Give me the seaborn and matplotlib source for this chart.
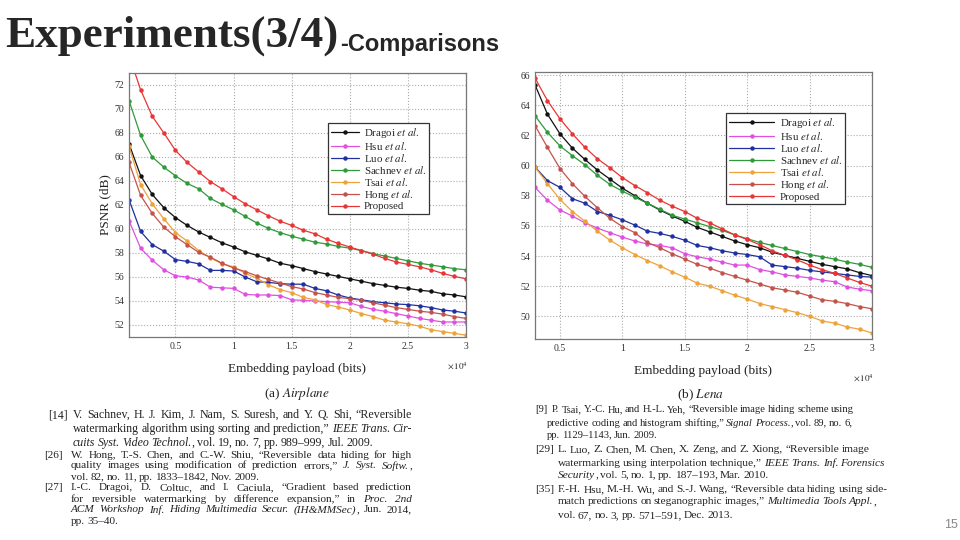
import numpy as np
import pandas as pd
import matplotlib
matplotlib.use("Agg")
import matplotlib.pyplot as plt
import seaborn as sns

sns.set_style("white")
plt.rcParams["font.family"] = ["Liberation Serif", "DejaVu Serif"]
plt.rcParams["mathtext.fontset"] = "stix"

# payload in units of 10^4 bits
x_air = [round(0.1 * i, 1) for i in range(1, 31)]
x_lena = [round(0.1 * i, 1) for i in range(3, 31)]

names = ["Dragoi", "Hsu", "Luo", "Sachnev", "Tsai", "Hong", "Proposed"]
colors = ["#111111", "#e050e0", "#2030a0", "#2e9a3a", "#eea23a", "#c4524a", "#e83535"]

# (a) Airplane
air_dragoi = [67.1, 64.45, 62.88, 61.77, 60.95, 60.3, 59.75, 59.3, 58.85, 58.5, 58.1, 57.8, 57.5, 57.15, 56.95,
              56.7, 56.45, 56.25, 56.05, 55.85, 55.65, 55.45, 55.3, 55.15, 55.05, 54.9, 54.8, 54.6, 54.5, 54.35]
air_hsu = [60.7, 58.4, 57.4, 56.6, 56.1, 56.0, 55.75, 55.15, 55.1, 55.05, 54.55, 54.5, 54.5, 54.45, 54.1,
           54.05, 54.0, 53.95, 53.9, 53.85, 53.55, 53.3, 53.15, 52.95, 52.75, 52.55, 52.4, 52.25, 52.25, 52.25]
air_luo = [62.45, 59.8, 58.7, 58.15, 57.45, 57.3, 57.1, 56.55, 56.55, 56.5, 56.0, 55.6, 55.55, 55.45, 55.4,
           55.4, 55.05, 54.85, 54.5, 54.25, 54.1, 53.95, 53.85, 53.75, 53.7, 53.6, 53.45, 53.25, 53.15, 53.0]
air_sachnev = [70.7, 67.8, 66.0, 65.15, 64.43, 63.8, 63.35, 62.55, 62.05, 61.6, 61.05, 60.5, 60.05, 59.7, 59.4,
               59.15, 58.9, 58.75, 58.55, 58.4, 58.2, 57.95, 57.75, 57.55, 57.35, 57.15, 57.0, 56.85, 56.7, 56.6]
air_tsai = [66.9, 63.7, 62.1, 60.85, 59.7, 59.0, 58.2, 57.6, 57.1, 56.85, 56.3, 55.9, 55.35, 54.95, 54.7,
            54.3, 54.1, 53.7, 53.5, 53.25, 52.95, 52.7, 52.4, 52.25, 52.1, 51.9, 51.6, 51.45, 51.3, 51.15]
air_hong = [65.55, 62.8, 61.3, 60.15, 59.35, 58.7, 58.05, 57.65, 57.15, 56.75, 56.45, 56.1, 55.8, 55.5, 55.2,
            55.0, 54.7, 54.5, 54.3, 54.2, 54.05, 53.85, 53.65, 53.45, 53.3, 53.15, 53.05, 52.9, 52.7, 52.55]
air_proposed = [74.5, 71.6, 69.4, 68.0, 66.55, 65.55, 64.75, 63.95, 63.35, 62.7, 62.1, 61.6, 61.1, 60.65, 60.3,
                59.9, 59.6, 59.15, 58.8, 58.5, 58.2, 57.9, 57.55, 57.25, 57.05, 56.85, 56.6, 56.3, 56.05, 55.85]

# (b) Lena
lena_dragoi = [65.35, 63.4, 62.1, 61.15, 60.4, 59.7, 59.1, 58.5, 58.0, 57.5, 57.05, 56.65, 56.3, 55.9,
               55.6, 55.3, 55.0, 54.75, 54.55, 54.25, 54.05, 53.85, 53.65, 53.45, 53.3, 53.15, 52.9, 52.7]
lena_hsu = [58.55, 57.7, 57.05, 56.65, 56.2, 55.85, 55.55, 55.25, 55.0, 54.8, 54.7, 54.55, 54.15, 53.95,
            53.8, 53.6, 53.4, 53.4, 53.1, 52.95, 52.75, 52.65, 52.55, 52.4, 52.3, 51.95, 51.8, 51.7]
lena_luo = [59.9, 59.0, 58.55, 57.8, 57.5, 56.95, 56.7, 56.4, 56.05, 55.65, 55.5, 55.3, 55.05, 54.7,
            54.55, 54.35, 54.2, 54.1, 53.95, 53.4, 53.3, 53.2, 53.05, 52.95, 52.85, 52.75, 52.65, 52.6]
lena_sachnev = [63.3, 62.2, 61.3, 60.65, 60.05, 59.35, 58.75, 58.3, 57.9, 57.5, 57.1, 56.7, 56.45, 56.2,
                55.95, 55.7, 55.4, 55.15, 54.9, 54.7, 54.5, 54.3, 54.1, 53.95, 53.8, 53.6, 53.45, 53.25]
lena_tsai = [59.9, 58.8, 57.75, 56.95, 56.3, 55.65, 55.05, 54.55, 54.1, 53.7, 53.35, 52.95, 52.6, 52.2,
             52.0, 51.7, 51.4, 51.15, 50.85, 50.65, 50.45, 50.25, 50.0, 49.7, 49.55, 49.3, 49.15, 48.9]
lena_hong = [62.65, 61.2, 59.8, 58.8, 57.95, 57.2, 56.5, 55.95, 55.55, 54.9, 54.55, 54.15, 53.8, 53.45,
             53.2, 52.9, 52.65, 52.4, 52.15, 51.9, 51.75, 51.6, 51.35, 51.1, 51.0, 50.85, 50.65, 50.5]
lena_proposed = [65.8, 64.3, 63.1, 62.1, 61.2, 60.45, 59.85, 59.2, 58.67, 58.2, 57.7, 57.3, 56.95, 56.5,
                 56.2, 55.8, 55.4, 55.1, 54.75, 54.35, 54.05, 53.75, 53.4, 53.1, 52.85, 52.55, 52.25, 52.0]

air = [air_dragoi, air_hsu, air_luo, air_sachnev, air_tsai, air_hong, air_proposed]
lena = [lena_dragoi, lena_hsu, lena_luo, lena_sachnev, lena_tsai, lena_hong, lena_proposed]

# reference lists; *...* marks italic
refs_left = [
    ("[14]", 48, 73, 8.6, [415, 429, 443], [
        "V. Sachnev, H. J. Kim, J. Nam, S. Suresh, and Y. Q. Shi, \u201cReversible",
        "watermarking algorithm using sorting and prediction,\u201d *IEEE Trans. Cir-*",
        "*cuits Syst. Video Technol.*, vol. 19, no. 7, pp. 989\u2013999, Jul. 2009."]),
    ("[26]", 44, 71, 8.1, [455, 466, 477], [
        "W. Hong, T.-S. Chen, and C.-W. Shiu, \u201cReversible data hiding for high",
        "quality images using modification of prediction errors,\u201d *J. Syst. Softw.*,",
        "vol. 82, no. 11, pp. 1833\u20131842, Nov. 2009."]),
    ("[27]", 44, 71, 8.1, [488, 499, 510, 522], [
        "I.-C. Dragoi, D. Coltuc, and I. Caciula, \u201cGradient based prediction",
        "for reversible watermarking by difference expansion,\u201d in *Proc. 2nd*",
        "*ACM Workshop Inf. Hiding Multimedia Secur. (IH&MMSec)*, Jun. 2014,",
        "pp. 35\u201340."]),
]
refs_right = [
    ("[9]", 535, 552, 7.6, [410, 423, 435], [
        "P. Tsai, Y.-C. Hu, and H.-L. Yeh, \u201cReversible image hiding scheme using",
        "predictive coding and histogram shifting,\u201d *Signal Process.*, vol. 89, no. 6,",
        "pp. 1129\u20131143, Jun. 2009."]),
    ("[29]", 535, 558, 8.2, [450, 463, 475], [
        "L. Luo, Z. Chen, M. Chen, X. Zeng, and Z. Xiong, \u201cReversible image",
        "watermarking using interpolation technique,\u201d *IEEE Trans. Inf. Forensics*",
        "*Security*, vol. 5, no. 1, pp. 187\u2013193, Mar. 2010."]),
    ("[35]", 535, 558, 8.2, [490, 502, 516], [
        "F.-H. Hsu, M.-H. Wu, and S.-J. Wang, \u201cReversible data hiding using side-",
        "match predictions on steganographic images,\u201d *Multimedia Tools Appl.*,",
        "vol. 67, no. 3, pp. 571\u2013591, Dec. 2013."]),
]


def it(s):
    return r"$\mathit{" + s.replace(" ", r"\ ") + "}$"


labels = [n + " " + it("et al.") for n in names[:-1]] + ["Proposed"]

fig = plt.figure(figsize=(9.6, 5.4), dpi=100)
fig.patch.set_facecolor("white")
renderer = fig.canvas.get_renderer()


def px(x, y):
    return x / 960, 1 - y / 540


def panel(rect, xs, series, ylim, yticks, leg_anchor, ylabel, hlen):
    ax = fig.add_axes(rect)
    for vals, c, lab in zip(series, colors, labels):
        df = pd.DataFrame({"x": xs, "y": vals})
        sns.lineplot(data=df, x="x", y="y", ax=ax, color=c, marker="o", markersize=3.2,
                     markeredgewidth=0, linewidth=0.9, label=lab)
    ax.set_xlim(xs[0], 3.0)
    ax.set_ylim(*ylim)
    ax.set_xticks([0.5, 1, 1.5, 2, 2.5, 3])
    ax.set_xticklabels(["0.5", "1", "1.5", "2", "2.5", "3"])
    ax.set_yticks(yticks)
    ax.tick_params(labelsize=7, colors="#333333", length=2, direction="in")
    ax.grid(True, linestyle=":", color="#aaaaaa", linewidth=0.8)
    for s in ax.spines.values():
        s.set_color("#777777")
        s.set_linewidth(0.9)
    ax.set_xlabel("Embedding payload (bits)", fontsize=9.5, color="#222222", labelpad=9)
    ax.set_ylabel(ylabel, fontsize=9.5, color="#222222", labelpad=2)
    leg = ax.legend(loc="upper left", bbox_to_anchor=leg_anchor, fontsize=7.8, frameon=True,
                    fancybox=False, edgecolor="#333333", framealpha=1, borderpad=0.25,
                    labelspacing=0.0, handlelength=hlen, handletextpad=0.5, borderaxespad=0)
    leg.get_frame().set_linewidth(0.9)
    return ax


ax1 = panel([129 / 960, 1 - 337 / 540, 337 / 960, 264 / 540], x_air, air, (51.0, 73.0),
            list(range(52, 73, 2)), (0.59, 0.81), "PSNR (dB)", 2.6)
ax2 = panel([535 / 960, 1 - 339 / 540, 337 / 960, 267 / 540], x_lena, lena, (48.5, 66.2),
            list(range(50, 67, 2)), (0.567, 0.845), "", 4.2)

fig.text(*px(447, 366), r"$\times\,10^{4}$", fontsize=6.5, color="#222222", va="center")
fig.text(*px(853, 378), r"$\times\,10^{4}$", fontsize=6.5, color="#222222", va="center")
fig.text(*px(297, 393), "(a) " + it("Airplane"), fontsize=9.5, ha="center", va="center", color="#222222")
fig.text(*px(700, 395), "(b) " + it("Lena"), fontsize=9.5, ha="center", va="center", color="#222222")

# title
fig.text(*px(5, 36), "Experiments(3/4)", fontsize=32.5, fontweight="bold", va="center",
         family=["Liberation Serif"])
fig.text(*px(340, 44), "-Comparisons", fontsize=17, fontweight="bold", va="center",
         family=["Liberation Sans"])


def parse(line):
    words, cur, buf, ital = [], [], "", False
    for ch in line:
        if ch == "*":
            if buf:
                cur.append((buf, ital))
                buf = ""
            ital = not ital
        elif ch == " ":
            if buf:
                cur.append((buf, ital))
                buf = ""
            if cur:
                words.append(cur)
                cur = []
        else:
            buf += ch
    if buf:
        cur.append((buf, ital))
    if cur:
        words.append(cur)
    return words


def draw_line(x0, x1, y, line, fs, justify):
    words = parse(line)
    placed = []
    for w in words:
        runs = []
        for s, ital in w:
            t = fig.text(0, 1 - y / 540, s, fontsize=fs, style="italic" if ital else "normal",
                         va="center", color="#222222")
            runs.append((t, t.get_window_extent(renderer).width))
        placed.append(runs)
    widths = [sum(wd for _, wd in r) for r in placed]
    gap = fs * 100 / 72 * 0.2
    if justify and len(placed) > 1:
        gap = (x1 - x0 - sum(widths)) / (len(placed) - 1)
    x = x0
    for runs, wsum in zip(placed, widths):
        xr = x
        for t, wd in runs:
            t.set_x(xr / 960)
            xr += wd
        x += wsum + gap


for tag, xt, xl, fs, ys, lines in refs_left:
    fig.text(*px(xt, ys[0]), tag, fontsize=fs, va="center", color="#222222")
    for i, (y, line) in enumerate(zip(ys, lines)):
        draw_line(xl, 412, y, line, fs, i < len(lines) - 1)

for tag, xt, xl, fs, ys, lines in refs_right:
    fig.text(*px(xt, ys[0]), tag, fontsize=fs, va="center", color="#222222")
    for i, (y, line) in enumerate(zip(ys, lines)):
        x0 = xl if i == 0 or tag != "[9]" else 547
        draw_line(x0, 0, y, line, fs, False)

fig.text(*px(944, 525), "15", fontsize=9, va="center", color="#888888", family=["Liberation Sans"])

fig.savefig("out.png", dpi=100, facecolor="white")
